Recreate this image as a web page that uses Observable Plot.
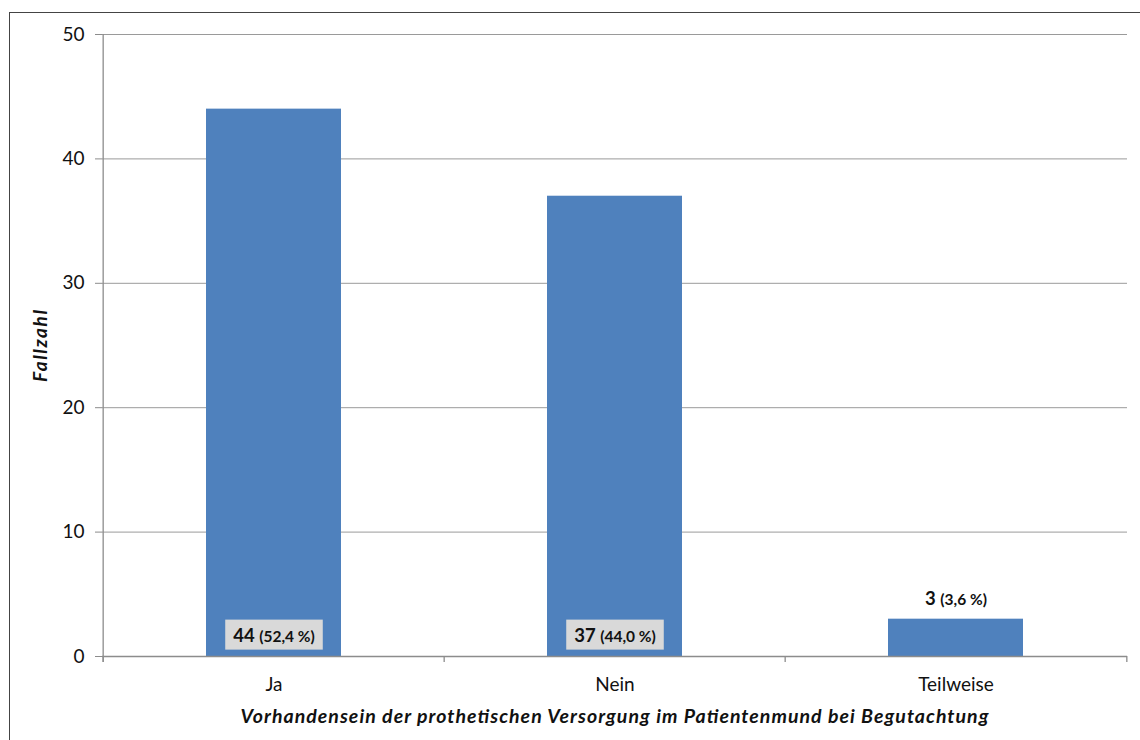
<!DOCTYPE html>
<html>
<head>
<meta charset="utf-8">
<script src="https://cdn.jsdelivr.net/npm/d3@7"></script>
<script src="https://cdn.jsdelivr.net/npm/@observablehq/plot@0.6"></script>
<style>
  html, body { margin: 0; padding: 0; background: #fff; }
  #wrap { position: relative; width: 1140px; height: 740px; overflow: hidden; }
  #border { position: absolute; left: 9px; top: 12px; width: 1200px; height: 800px;
            border: 1.5px solid #444; box-sizing: border-box; }
  #chart { position: absolute; left: 0; top: 0; }
  svg { font-family: Lato, "Open Sans", sans-serif; }
</style>
</head>
<body>
<div id="wrap"><div id="border"></div><div id="chart"></div></div>
<script>
// Prothetische Versorgung im Patientenmund bei Begutachtung
const categories = ["Ja", "Nein", "Teilweise"];
const counts = [44, 37, 3];
const percents = ["52,4 %", "44,0 %", "3,6 %"];
const yTicks = [0, 10, 20, 30, 40, 50];

const xTitle = "Vorhandensein der prothetischen Versorgung im Patientenmund bei Begutachtung";
const yTitle = "Fallzahl";

const data = categories.map((c, i) => ({category: c, count: counts[i], pct: percents[i]}));
const inside = data.filter(d => d.count >= 10);
const outside = data.filter(d => d.count < 10);

const W = 1140, H = 740;
const ml = 102, mr = 13, mt = 34, mb = 84;
const step = (W - ml - mr) / categories.length;
const axisColor = "#8c8c8c";

const plot = Plot.plot({
  width: W,
  height: H,
  marginLeft: ml,
  marginRight: mr,
  marginTop: mt,
  marginBottom: mb,
  style: {fontFamily: "Lato, 'Open Sans', sans-serif", color: "#111", background: "transparent"},
  x: {domain: categories, paddingInner: 0.605, paddingOuter: 0.3025, label: null},
  y: {domain: [0, 50], ticks: yTicks, label: null},
  marks: [
    Plot.gridY(yTicks.filter(t => t > 0), {stroke: "#9a9a9a", strokeOpacity: 1, strokeWidth: 1}),
    Plot.barY(data, {x: "category", y: "count", fill: "#4f81bd"}),
    // rule 0: value axis line along the left edge of the first band
    Plot.ruleX(categories.slice(0, 1), {x: d => d, dx: -step / 2, y1: 0, y2: 50, stroke: axisColor, strokeWidth: 1.3}),
    // rule 1: category axis line
    Plot.ruleY([0], {stroke: axisColor, strokeWidth: 1.3}),
    // rules 2, 3: category boundary ticks
    Plot.ruleX(categories, {x: d => d, dx: -step / 2, stroke: axisColor, strokeWidth: 1.3}),
    Plot.ruleX(categories.slice(-1), {x: d => d, dx: step / 2, stroke: axisColor, strokeWidth: 1.3}),
    Plot.axisY({ticks: yTicks, tickSize: 7, tickPadding: 11, fontSize: 19, stroke: axisColor, label: null}),
    Plot.axisX({tickSize: 0, tickPadding: 21, fontSize: 19, label: null}),
    // text 0: labels inside the tall bars; text 1: labels above the short bar
    Plot.text(inside, {x: "category", y: 0, dy: -20, text: d => `${d.count} (${d.pct})`,
      fontWeight: "bold", fontSize: 16, fill: "#111"}),
    Plot.text(outside, {x: "category", y: "count", dy: -19, text: d => `${d.count} (${d.pct})`,
      fontWeight: "bold", fontSize: 16, fill: "#111"})
  ]
});

document.getElementById("chart").appendChild(plot);
const svg = d3.select(plot);
const rules = svg.selectAll('g[aria-label="rule"]').nodes();
const texts = svg.selectAll('g[aria-label="text"]').nodes();

// boundary ticks: short marks hanging below the axis
d3.selectAll(rules.slice(2)).selectAll("line")
  .attr("y1", H - mb).attr("y2", H - mb + 6);
// the value axis line also reaches down to the tick length
d3.select(rules[0]).selectAll("line").attr("y1", H - mb + 6);

// count in larger type, percent in smaller type
function splitLabels(sel) {
  sel.each(function () {
    const t = d3.select(this);
    const s = t.text();
    const m = s.match(/^(\S+)\s(.*)$/);
    if (!m) return;
    t.text(null);
    t.append("tspan").style("font-size", "18.5px").text(m[1] + " ");
    t.append("tspan").style("font-size", "15.5px").text(m[2]);
  });
}
splitLabels(d3.selectAll(texts).selectAll("text"));

// grey boxes behind the labels inside the bars
d3.select(texts[0]).selectAll("text").each(function () {
  const b = this.getBBox();
  const padX = 8, padY = 5;
  d3.select(this.parentNode).insert("rect", () => this)
    .attr("x", b.x - padX).attr("y", b.y - padY + 1)
    .attr("width", b.width + 2 * padX).attr("height", b.height + 2 * padY - 2)
    .attr("fill", "#d9d9d9")
    .attr("transform", this.getAttribute("transform"));
});

// axis titles
svg.append("text")
  .attr("x", ml + (W - ml - mr) / 2).attr("y", 723)
  .attr("text-anchor", "middle")
  .attr("font-size", 19.5).attr("font-weight", "bold").attr("font-style", "italic")
  .attr("fill", "#111")
  .attr("textLength", 748).attr("lengthAdjust", "spacing")
  .text(xTitle);
svg.append("text")
  .attr("transform", "translate(47, 346) rotate(-90)")
  .attr("text-anchor", "middle")
  .attr("font-size", 19).attr("font-weight", "bold").attr("font-style", "italic")
  .attr("fill", "#111")
  .attr("textLength", 72).attr("lengthAdjust", "spacing")
  .text(yTitle);
</script>
</body>
</html>
